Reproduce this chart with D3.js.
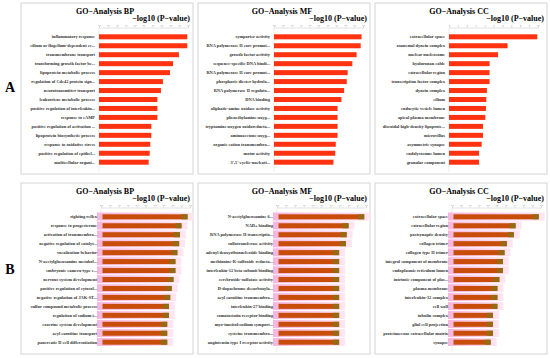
<!DOCTYPE html>
<html>
<head>
<meta charset="utf-8">
<script src="https://cdn.jsdelivr.net/npm/d3@7"></script>
<style>
  body { margin: 0; background: #fff; }
  svg { display: block; }
  text { font-family: "Liberation Serif", "DejaVu Serif", serif; font-weight: bold; }
</style>
</head>
<body>
<svg id="chart" width="550" height="358"></svg>
<script>
// ---- data ----
var titles = ['GO\u2212Analysis BP', 'GO\u2212Analysis MF', 'GO\u2212Analysis CC'];

var aBpTerms = ['inflammatory response', 'cilium or flagellum-dependent ce...', 'transmembrane transport',
  'transforming growth factor be...', 'lipoprotein metabolic process', 'regulation of Cdc42 protein sign...',
  'neurotransmitter transport', 'leukotriene metabolic process', 'positive regulation of interleukin...',
  'response to cAMP', 'positive regulation of activation ...', 'lipoprotein biosynthetic process',
  'response to oxidative stress', 'positive regulation of epithel...', 'multicellular organi...'];
var aBpValues = [4.96, 4.96, 4.49, 4.16, 3.99, 3.59, 3.48, 3.28, 3.28, 3.28, 2.94, 2.94, 2.88, 2.85, 2.79];

var aMfTerms = ['symporter activity', 'RNA polymerase II core promot...', 'growth factor activity',
  'sequence-specific DNA bindi...', 'RNA polymerase II core promot...', 'phosphoric diester hydrola...',
  'RNA polymerase II regulato...', 'DNA binding', 'aliphatic-amine oxidase activity',
  'phenethylamine:oxyg...', 'tryptamine:oxygen oxidoreducta...', 'aminoacetone:oxyg...',
  'organic cation transmembra...', 'motor activity', "3',5'-cyclic-nucleoti..."];
var aMfValues = [4.92, 4.87, 4.64, 4.40, 4.14, 4.09, 3.94, 3.79, 3.57, 3.57, 3.57, 3.57, 3.47, 3.44, 3.34];

var aCcTerms = ['extracellular space', 'axonemal dynein complex', 'nuclear nucleosome', 'hyaluronan cable',
  'extracellular region', 'transcription factor complex', 'dynein complex', 'cilium',
  'endocytic vesicle lumen', 'apical plasma membrane', 'discoidal high-density lipoprote...',
  'microvillus', 'asymmetric synapse', 'endolysosome lumen', 'granular component'];
var aCcValues = [9.92, 6.58, 5.51, 4.56, 4.56, 4.56, 4.26, 4.19, 4.15, 4.08, 3.82, 3.82, 3.67, 3.38, 3.38];

var bBpTerms = ['righting reflex', 'response to progesterone', 'activation of transmembra...',
  'negative regulation of catalyt...', 'vocalization behavior', 'N-acetylglucosamine metabol...',
  'embryonic camera-type e...', 'nervous system development', 'positive regulation of cytosol...',
  'negative regulation of JAK-ST...', 'sulfur compound metabolic process', 'regulation of sodium i...',
  'exocrine system development', 'acyl carnitine transport', 'pancreatic D cell differentiation'];
var bBpValues = [4.86, 4.52, 4.43, 4.39, 4.29, 4.18, 4.18, 4.07, 3.97, 3.89, 3.82, 3.82, 3.72, 3.72, 3.72];

var bMfTerms = ['N-acetylglucosamine 6...', 'NAD+ binding', 'RNA polymerase II transcriptio...',
  'sulfotransferase activity', 'adenyl deoxyribonucleotide binding', 'methionine-R-sulfoxide reducta...',
  'interleukin-12 beta subunit binding', 'cerebroside-sulfatase activity', 'D-dopachrome decarboxyla...',
  'acyl carnitine transmembra...', 'interleukin-27 binding', 'somatostatin receptor binding',
  'myo-inositol:sodium symport...', 'cysteine transmembra...', 'angiotensin type I receptor activity'];
var bMfValues = [4.90, 4.02, 3.91, 3.87, 3.49, 3.49, 3.49, 3.49, 3.49, 3.49, 3.49, 3.49, 3.49, 3.49, 3.49];

var bCcTerms = ['extracellular space', 'extracellular region', 'postsynaptic density', 'collagen trimer',
  'collagen type II trimer', 'integral component of membrane', 'endoplasmic reticulum lumen',
  'intrinsic component of plas...', 'plasma membrane', 'interleukin-12 complex', 'cell wall',
  'tubulin complex', 'glial cell projection', 'proteinaceous extracellular matrix', 'synapse'];
var bCcValues = [4.87, 3.57, 3.47, 3.08, 2.95, 2.86, 2.86, 2.66, 2.55, 2.55, 2.55, 2.30, 2.30, 2.30, 2.17];

var axisMax = [[5, 5, 10], [5, 5, 5]];
var rowLetters = ['A', 'B'];

// ---- layout ----
var svg = d3.select('#chart');
var colX = [21, 198, 375], rowY = [3, 183];
var pw = 172, ph = 171;
var leftM = [[78, 76, 74], [80, 79, 77]];
var axisW = 89;

var defs = svg.append('defs');
var pinkGrad = defs.append('linearGradient').attr('id', 'pink');
pinkGrad.append('stop').attr('offset', '0%').attr('stop-color', '#f7b6dc');
pinkGrad.append('stop').attr('offset', '100%').attr('stop-color', '#fde6f2');

var panels = [
  [[aBpTerms, aBpValues], [aMfTerms, aMfValues], [aCcTerms, aCcValues]],
  [[bBpTerms, bBpValues], [bMfTerms, bMfValues], [bCcTerms, bCcValues]]
];

rowLetters.forEach(function (letter, r) {
  svg.append('text')
    .attr('x', 10).attr('y', r === 0 ? 92 : 274)
    .attr('text-anchor', 'middle')
    .attr('font-size', 14)
    .text(letter);
});

panels.forEach(function (row, r) {
  row.forEach(function (p, c) {
    var terms = p[0], values = p[1];
    var g = svg.append('g').attr('transform', 'translate(' + colX[c] + ',' + rowY[r] + ')');

    g.append('rect')
      .attr('x', 0).attr('y', 0).attr('width', pw).attr('height', ph)
      .attr('fill', 'none').attr('stroke', '#d4d4d4').attr('stroke-width', 1);

    var x0 = leftM[r][c];
    var x = d3.scaleLinear().domain([0, axisMax[r][c]]).range([x0, x0 + axisW]);
    // index domain: some term names repeat
    var y = d3.scaleBand().domain(d3.range(terms.length)).range([29.5, 163.5]).paddingInner(0.44).paddingOuter(0.2);

    g.append('text')
      .attr('x', 84).attr('y', 10.5)
      .attr('text-anchor', 'middle').attr('font-size', 8)
      .text(titles[c]);
    g.append('text')
      .attr('x', 169).attr('y', 17.5)
      .attr('text-anchor', 'end').attr('font-size', 8)
      .text('\u2212log10 (P\u2212value)');

    // top axis
    var ax = g.append('g').attr('transform', 'translate(0,24.5)')
      .call(d3.axisTop(x).ticks(10).tickSize(1.2).tickPadding(0.3));
    ax.select('.domain').attr('stroke', '#e2e2e2');
    ax.selectAll('.tick line').attr('stroke', '#cfcfcf');
    ax.selectAll('.tick text').attr('font-size', 2.4).attr('fill', '#999')
      .attr('font-family', 'Liberation Serif, serif');

    // baseline
    g.append('line')
      .attr('x1', x0).attr('x2', x0).attr('y1', 25).attr('y2', ph - 2)
      .attr('stroke', '#e6e6e6').attr('stroke-width', 0.8);

    if (r === 1) {
      g.selectAll('rect.band').data(values).enter().append('rect')
        .attr('class', 'band')
        .attr('x', x0 - 4)
        .attr('y', function (d, i) { return y(i) - y.step() * 0.2; })
        .attr('width', function (d) { return x(d) - x0 + 10; })
        .attr('height', y.step() * 0.9)
        .attr('fill', 'url(#pink)');
    }

    g.selectAll('rect.bar').data(values).enter().append('rect')
      .attr('class', 'bar')
      .attr('x', x0 + (r === 1 ? 1.5 : 0))
      .attr('y', function (d, i) { return y(i); })
      .attr('width', function (d) { return x(d) - x0 - (r === 1 ? 1.5 : 0); })
      .attr('height', y.bandwidth())
      .attr('fill', r === 0 ? '#ff3311' : '#c84d0a');

    if (r === 1) {
      g.selectAll('rect.tip').data(values).enter().append('rect')
        .attr('class', 'tip')
        .attr('x', function (d) { return x(d) - 6; })
        .attr('y', function (d, i) { return y(i); })
        .attr('width', 6)
        .attr('height', y.bandwidth())
        .attr('fill', '#956a14');
    }

    g.selectAll('text.term').data(terms).enter().append('text')
      .attr('class', 'term')
      .attr('x', x0 - 4)
      .attr('y', function (d, i) { return y(i) + y.bandwidth() / 2; })
      .attr('dy', '0.35em')
      .attr('text-anchor', 'end')
      .attr('font-size', 4.4)
      .attr('fill', '#333')
      .text(function (d) { return d; });
  });
});
</script>
</body>
</html>
